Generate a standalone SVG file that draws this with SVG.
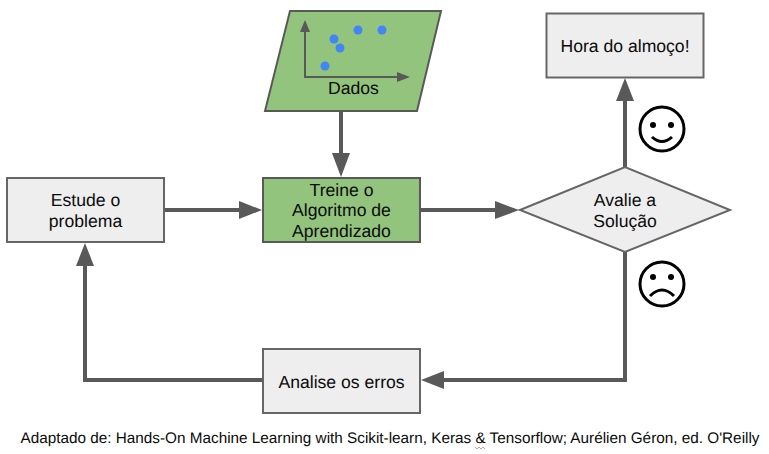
<svg xmlns="http://www.w3.org/2000/svg" width="769" height="454" viewBox="0 0 769 454">
<style>
text{font-family:"Liberation Sans",Arial,sans-serif;font-size:17.6px;fill:#0b0b0b;text-anchor:middle;text-rendering:geometricPrecision}
.gray{fill:#eeeeee;stroke:#666666;stroke-width:2}
.green{fill:#93c47d;stroke:#595959;stroke-width:2}
.c{fill:none;stroke:#595959;stroke-width:4}
.h{fill:#595959;stroke:none}
.f{fill:none;stroke:#000;stroke-width:3}
.d{fill:#4285f4}
</style>
<rect width="769" height="454" fill="#fff"/>
<g id="connectors">
<path class="c" d="M164 210H242"/><polygon class="h" points="262,210 239,201 239,219"/>
<path class="c" d="M420 210H499"/><polygon class="h" points="519,210 495,201 495,219"/>
<path class="c" d="M341 111V156"/><polygon class="h" points="341,177 332,153 350,153"/>
<path class="c" d="M625 168V98"/><polygon class="h" points="625,78 616,101 634,101"/>
<path class="c" d="M625 252V380H441"/><polygon class="h" points="421,380 444,371 444,389"/>
<path class="c" d="M263 380H85V262"/><polygon class="h" points="85,243 76,266 94,266"/>
</g>
<g id="dados">
<polygon class="green" points="290,11 441,11 417,111 265,111"/>
<path fill="none" stroke="#595959" stroke-width="2" d="M305 30V77H400"/>
<polygon class="h" points="305,20 300,32 310,32"/>
<polygon class="h" points="410,77 397,72 397,82"/>
<circle class="d" cx="358" cy="30" r="4.5"/><circle class="d" cx="382" cy="30" r="4.5"/>
<circle class="d" cx="334" cy="39" r="4.5"/><circle class="d" cx="340" cy="48" r="4.5"/>
<circle class="d" cx="325" cy="66" r="4.5"/>
<text x="353.500" y="93.500">Dados</text>
</g>
<g id="hora"><rect class="gray" x="546.500" y="13.500" width="157" height="64"/><text x="625" y="52">Hora do almoço!</text></g>
<g id="estude"><rect class="gray" x="7" y="178" width="157" height="64"/><text x="85.500" y="206">Estude o</text><text x="85.500" y="227">problema</text></g>
<g id="treine"><rect class="green" x="263" y="178" width="157" height="64"/><text x="341.500" y="195.500">Treine o</text><text x="341.500" y="216">Algoritmo de</text><text x="341.500" y="237">Aprendizado</text></g>
<g id="avalie"><polygon class="gray" points="520,210 625,167 730,210 625,252"/><text x="625" y="205.500">Avalie a</text><text x="625" y="226.500">Solução</text></g>
<g id="analise"><rect class="gray" x="263" y="349" width="157" height="64"/><text x="341.500" y="387.500">Analise os erros</text></g>
<g id="feliz">
<circle class="f" cx="662" cy="129" r="22"/>
<circle cx="653" cy="125" r="3"/><circle cx="671" cy="125" r="3"/>
<path class="f" d="M652 137Q662 146 672 137"/>
</g>
<g id="triste">
<circle class="f" cx="662" cy="284" r="22"/>
<circle cx="653" cy="277" r="3"/><circle cx="671" cy="277" r="3"/>
<path class="f" d="M650 296Q662 284 674 296"/>
</g>
<text x="390" y="443" style="font-size:15.3px">Adaptado de: Hands-On Machine Learning with Scikit-learn, Keras &amp; Tensorflow; Aurélien Géron, ed. O'Reilly</text>
<path fill="none" stroke="#e06666" stroke-width="0.700" d="M475 447l2 2 2-2 2 2 2-2 2 2"/>
</svg>
